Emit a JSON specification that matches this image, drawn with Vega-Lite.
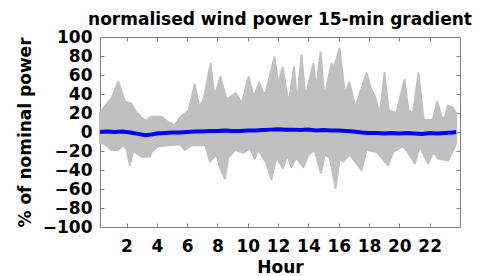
{
  "$schema": "https://vega.github.io/schema/vega-lite/v6.json",
  "width": 360,
  "height": 190,
  "autosize": "none",
  "padding": {"left": 100, "top": 37, "right": 31, "bottom": 49},
  "background": "white",
  "title": {
    "text": "normalised wind power 15-min gradient",
    "anchor": "middle",
    "baseline": "alphabetic",
    "frame": "group",
    "offset": 15,
    "dy": 29,
    "font": "DejaVu Sans",
    "fontSize": 17,
    "fontWeight": "bold",
    "color": "black"
  },
  "config": {
    "view": {"stroke": null},
    "axis": {
      "grid": false,
      "domainColor": "#808080",
      "domainWidth": 1,
      "tickColor": "#808080",
      "tickSize": -4,
      "labelFont": "DejaVu Sans",
      "labelFontSize": 17,
      "labelFontWeight": "bold",
      "labelColor": "black",
      "titleFont": "DejaVu Sans",
      "titleFontSize": 17,
      "titleFontWeight": "bold",
      "titleColor": "black"
    }
  },
  "datasets": {
    "env": [
      {"hour": 0.25, "value": 20, "side": "up"},
      {"hour": 0.7, "value": 30, "side": "up"},
      {"hour": 1.0, "value": 35, "side": "up"},
      {"hour": 1.45, "value": 53, "side": "up"},
      {"hour": 1.9, "value": 32, "side": "up"},
      {"hour": 2.3, "value": 30, "side": "up"},
      {"hour": 2.6, "value": 22, "side": "up"},
      {"hour": 3.0, "value": 15, "side": "up"},
      {"hour": 3.3, "value": 12, "side": "up"},
      {"hour": 3.6, "value": 16, "side": "up"},
      {"hour": 4.3, "value": 16, "side": "up"},
      {"hour": 4.8, "value": 10, "side": "up"},
      {"hour": 5.2, "value": 7, "side": "up"},
      {"hour": 5.5, "value": 15, "side": "up"},
      {"hour": 6.1, "value": 23, "side": "up"},
      {"hour": 6.5, "value": 50, "side": "up"},
      {"hour": 6.8, "value": 26, "side": "up"},
      {"hour": 7.1, "value": 35, "side": "up"},
      {"hour": 7.54, "value": 72, "side": "up"},
      {"hour": 7.8, "value": 37, "side": "up"},
      {"hour": 8.2, "value": 58, "side": "up"},
      {"hour": 8.6, "value": 34, "side": "up"},
      {"hour": 9.2, "value": 41, "side": "up"},
      {"hour": 9.6, "value": 30, "side": "up"},
      {"hour": 10.05, "value": 58, "side": "up"},
      {"hour": 10.4, "value": 37, "side": "up"},
      {"hour": 10.75, "value": 52, "side": "up"},
      {"hour": 11.05, "value": 40, "side": "up"},
      {"hour": 11.2, "value": 42, "side": "up"},
      {"hour": 11.76, "value": 79, "side": "up"},
      {"hour": 12.0, "value": 51, "side": "up"},
      {"hour": 12.3, "value": 68, "side": "up"},
      {"hour": 12.69, "value": 30, "side": "up"},
      {"hour": 13.05, "value": 68, "side": "up"},
      {"hour": 13.25, "value": 30, "side": "up"},
      {"hour": 13.54, "value": 81, "side": "up"},
      {"hour": 13.8, "value": 37, "side": "up"},
      {"hour": 14.33, "value": 72, "side": "up"},
      {"hour": 14.5, "value": 44, "side": "up"},
      {"hour": 14.8, "value": 84, "side": "up"},
      {"hour": 15.05, "value": 37, "side": "up"},
      {"hour": 15.52, "value": 72, "side": "up"},
      {"hour": 15.7, "value": 68, "side": "up"},
      {"hour": 16.05, "value": 88, "side": "up"},
      {"hour": 16.4, "value": 41, "side": "up"},
      {"hour": 16.7, "value": 52, "side": "up"},
      {"hour": 17.1, "value": 26, "side": "up"},
      {"hour": 17.83, "value": 62, "side": "up"},
      {"hour": 18.1, "value": 47, "side": "up"},
      {"hour": 18.4, "value": 37, "side": "up"},
      {"hour": 18.7, "value": 18, "side": "up"},
      {"hour": 19.02, "value": 62, "side": "up"},
      {"hour": 19.3, "value": 23, "side": "up"},
      {"hour": 19.8, "value": 20, "side": "up"},
      {"hour": 20.34, "value": 55, "side": "up"},
      {"hour": 20.6, "value": 23, "side": "up"},
      {"hour": 20.9, "value": 20, "side": "up"},
      {"hour": 21.26, "value": 62, "side": "up"},
      {"hour": 21.6, "value": 13, "side": "up"},
      {"hour": 22.2, "value": 13, "side": "up"},
      {"hour": 22.5, "value": 32, "side": "up"},
      {"hour": 22.8, "value": 15, "side": "up"},
      {"hour": 23.0, "value": 15, "side": "up"},
      {"hour": 23.2, "value": 28, "side": "up"},
      {"hour": 23.5, "value": 26, "side": "up"},
      {"hour": 23.75, "value": 20, "side": "up"},

      {"hour": 0.25, "value": -12, "side": "down"},
      {"hour": 0.5, "value": -12, "side": "down"},
      {"hour": 1.0, "value": -19, "side": "down"},
      {"hour": 1.45, "value": -19, "side": "down"},
      {"hour": 1.78, "value": -14, "side": "down"},
      {"hour": 2.0, "value": -18, "side": "down"},
      {"hour": 2.22, "value": -35, "side": "down"},
      {"hour": 2.44, "value": -20, "side": "down"},
      {"hour": 2.99, "value": -26, "side": "down"},
      {"hour": 3.54, "value": -26, "side": "down"},
      {"hour": 3.65, "value": -21, "side": "down"},
      {"hour": 4.09, "value": -15, "side": "down"},
      {"hour": 5.52, "value": -13, "side": "down"},
      {"hour": 5.85, "value": -19, "side": "down"},
      {"hour": 6.3, "value": -14, "side": "down"},
      {"hour": 7.2, "value": -14, "side": "down"},
      {"hour": 7.5, "value": -31, "side": "down"},
      {"hour": 7.94, "value": -24, "side": "down"},
      {"hour": 8.16, "value": -37, "side": "down"},
      {"hour": 8.49, "value": -49, "side": "down"},
      {"hour": 8.71, "value": -27, "side": "down"},
      {"hour": 9.15, "value": -19, "side": "down"},
      {"hour": 9.7, "value": -22, "side": "down"},
      {"hour": 10.13, "value": -17, "side": "down"},
      {"hour": 10.46, "value": -28, "side": "down"},
      {"hour": 10.69, "value": -19, "side": "down"},
      {"hour": 11.23, "value": -33, "side": "down"},
      {"hour": 11.56, "value": -50, "side": "down"},
      {"hour": 11.89, "value": -27, "side": "down"},
      {"hour": 12.33, "value": -38, "side": "down"},
      {"hour": 12.6, "value": -24, "side": "down"},
      {"hour": 12.88, "value": -37, "side": "down"},
      {"hour": 13.2, "value": -27, "side": "down"},
      {"hour": 13.67, "value": -37, "side": "down"},
      {"hour": 14.0, "value": -24, "side": "down"},
      {"hour": 14.4, "value": -19, "side": "down"},
      {"hour": 14.82, "value": -43, "side": "down"},
      {"hour": 15.08, "value": -24, "side": "down"},
      {"hour": 15.41, "value": -27, "side": "down"},
      {"hour": 15.79, "value": -59, "side": "down"},
      {"hour": 16.07, "value": -28, "side": "down"},
      {"hour": 16.29, "value": -31, "side": "down"},
      {"hour": 16.73, "value": -24, "side": "down"},
      {"hour": 17.5, "value": -40, "side": "down"},
      {"hour": 17.83, "value": -19, "side": "down"},
      {"hour": 18.49, "value": -21, "side": "down"},
      {"hour": 18.82, "value": -27, "side": "down"},
      {"hour": 19.26, "value": -35, "side": "down"},
      {"hour": 19.59, "value": -21, "side": "down"},
      {"hour": 20.25, "value": -15, "side": "down"},
      {"hour": 20.58, "value": -22, "side": "down"},
      {"hour": 21.02, "value": -33, "side": "down"},
      {"hour": 21.35, "value": -15, "side": "down"},
      {"hour": 21.9, "value": -33, "side": "down"},
      {"hour": 22.23, "value": -21, "side": "down"},
      {"hour": 22.56, "value": -28, "side": "down"},
      {"hour": 23.22, "value": -30, "side": "down"},
      {"hour": 23.55, "value": -19, "side": "down"},
      {"hour": 23.75, "value": -12, "side": "down"}
    ],
    "mean": [
      {"hour": 0.25, "value": 0},
      {"hour": 0.75, "value": 0.5},
      {"hour": 1.25, "value": 0},
      {"hour": 1.75, "value": 0.5},
      {"hour": 2.25, "value": -0.5},
      {"hour": 2.75, "value": -2},
      {"hour": 3.25, "value": -3.5},
      {"hour": 3.5, "value": -3},
      {"hour": 4.0, "value": -1.5},
      {"hour": 4.5, "value": -1},
      {"hour": 5.0, "value": -0.5},
      {"hour": 5.5, "value": -0.5},
      {"hour": 6.0, "value": 0},
      {"hour": 6.5, "value": 0.5},
      {"hour": 7.0, "value": 0.5},
      {"hour": 7.5, "value": 1},
      {"hour": 8.0, "value": 1},
      {"hour": 8.5, "value": 1.5},
      {"hour": 9.0, "value": 1},
      {"hour": 9.5, "value": 1},
      {"hour": 10.0, "value": 1.5},
      {"hour": 10.5, "value": 1.5},
      {"hour": 11.0, "value": 2},
      {"hour": 11.5, "value": 2.5},
      {"hour": 12.0, "value": 3},
      {"hour": 12.5, "value": 2.5},
      {"hour": 13.0, "value": 2.5},
      {"hour": 13.5, "value": 2},
      {"hour": 14.0, "value": 2.5},
      {"hour": 14.5, "value": 1.5},
      {"hour": 15.0, "value": 2},
      {"hour": 15.5, "value": 1.5},
      {"hour": 16.0, "value": 1.5},
      {"hour": 16.5, "value": 1},
      {"hour": 17.0, "value": 0.5},
      {"hour": 17.5, "value": -0.5},
      {"hour": 18.0, "value": -1},
      {"hour": 18.5, "value": -1},
      {"hour": 19.0, "value": -1.5},
      {"hour": 19.5, "value": -1},
      {"hour": 20.0, "value": -1.5},
      {"hour": 20.5, "value": -1},
      {"hour": 21.0, "value": -1.5},
      {"hour": 21.5, "value": -2},
      {"hour": 22.0, "value": -1},
      {"hour": 22.5, "value": -1.5},
      {"hour": 23.0, "value": -1},
      {"hour": 23.5, "value": -0.5},
      {"hour": 23.75, "value": 0}
    ]
  },
  "layer": [
    {
      "data": {"name": "env"},
      "mark": {"type": "area", "color": "#c0c0c0", "stroke": "#c0c0c0", "strokeWidth": 2, "strokeJoin": "round"},
      "encoding": {
        "x": {
          "field": "hour", "type": "quantitative",
          "scale": {"domain": [0.25, 24], "nice": false, "zero": false},
          "axis": {"values": [2, 4, 6, 8, 10, 12, 14, 16, 18, 20, 22], "title": "Hour", "labelPadding": 15, "titlePadding": 5, "orient": "bottom"}
        },
        "y": {
          "field": "value", "type": "quantitative", "stack": null,
          "scale": {"domain": [-100, 100], "nice": false},
          "axis": {"values": [-100, -80, -60, -40, -20, 0, 20, 40, 60, 80, 100], "title": "% of nominal power", "labelPadding": 12, "titlePadding": 8, "orient": "left"}
        },
        "detail": {"field": "side"}
      }
    },
    {
      "data": {"name": "mean"},
      "mark": {"type": "line", "color": "#0000ff", "strokeWidth": 4},
      "encoding": {
        "x": {
          "field": "hour", "type": "quantitative",
          "scale": {"domain": [0.25, 24], "nice": false, "zero": false},
          "axis": {"orient": "top", "values": [2, 4, 6, 8, 10, 12, 14, 16, 18, 20, 22], "labels": false, "title": null}
        },
        "y": {
          "field": "value", "type": "quantitative",
          "scale": {"domain": [-100, 100], "nice": false},
          "axis": {"orient": "right", "values": [-100, -80, -60, -40, -20, 0, 20, 40, 60, 80, 100], "labels": false, "title": null}
        }
      }
    }
  ],
  "resolve": {"axis": {"x": "independent", "y": "independent"}}
}
